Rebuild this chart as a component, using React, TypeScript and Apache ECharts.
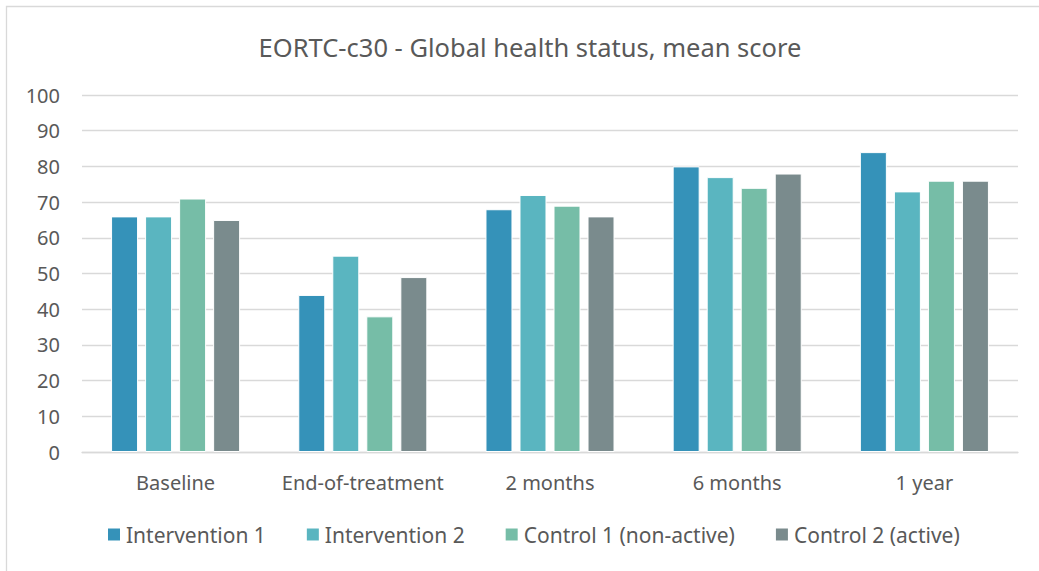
import React, { useEffect, useRef } from "react";
import * as echarts from "echarts";

const categories = ["Baseline", "End-of-treatment", "2 months", "6 months", "1 year"];
const seriesNames = ["Intervention 1", "Intervention 2", "Control 1 (non-active)", "Control 2 (active)"];
const intervention1 = [66, 44, 68, 80, 84];
const intervention2 = [66, 55, 72, 77, 73];
const control1 = [71, 38, 69, 74, 76];
const control2 = [65, 49, 66, 78, 76];
const seriesColors = ["#3592b9", "#5ab5c0", "#76bda7", "#7a8b8d"];
const yTicks = { min: 0, max: 100, interval: 10 };

const FONT = "'Noto Sans', sans-serif";
const TEXT = "#595959";

export default function App() {
  const ref = useRef<HTMLDivElement>(null);
  useEffect(() => {
    document.body.style.margin = "0";
    if (!ref.current) return;
    const chart = echarts.init(ref.current, null, { renderer: "svg" });
    const data = [intervention1, intervention2, control1, control2];
    chart.setOption({
      animation: false,
      backgroundColor: "#ffffff",
      title: {
        text: "EORTC-c30 - Global health status, mean score",
        left: 525,
        textAlign: "center",
        top: 29,
        textStyle: { fontFamily: FONT, fontSize: 25.5, fontWeight: "normal", color: TEXT },
      },
      graphic: [
        {
          type: "rect",
          shape: { x: 6.5, y: 6.5, width: 1100, height: 700 },
          style: { fill: "none", stroke: "#d9d9d9", lineWidth: 1.3 },
          silent: true,
        },
      ],
      legend: {
        data: seriesNames,
        left: 106,
        top: 524,
        padding: 0,
        icon: "rect",
        itemWidth: 14,
        itemHeight: 14,
        itemGap: 39,
        textStyle: { fontFamily: FONT, fontSize: 21, color: TEXT },
      },
      grid: { left: 82, right: 21, top: 95, bottom: 119, containLabel: false },
      xAxis: {
        type: "category",
        data: categories,
        axisLine: { lineStyle: { color: "#d9d9d9", width: 1.3 } },
        axisTick: { show: false },
        axisLabel: { fontFamily: FONT, fontSize: 20, color: TEXT, margin: 20, interval: 0 },
      },
      yAxis: {
        type: "value",
        min: yTicks.min,
        max: yTicks.max,
        interval: yTicks.interval,
        axisLine: { show: false },
        axisTick: { show: false },
        splitLine: { lineStyle: { color: "#d9d9d9", width: 1.3 } },
        axisLabel: { fontFamily: FONT, fontSize: 20, color: TEXT, margin: 22 },
      },
      series: seriesNames.map((name, i) => ({
        name,
        type: "bar",
        data: data[i],
        barWidth: 27,
        barGap: "26%",
        itemStyle: { color: seriesColors[i], borderColor: "#ffffff", borderWidth: 1 },
      })),
    });
    return () => chart.dispose();
  }, []);
  return <div ref={ref} style={{ width: 1039, height: 571 }} />;
}
